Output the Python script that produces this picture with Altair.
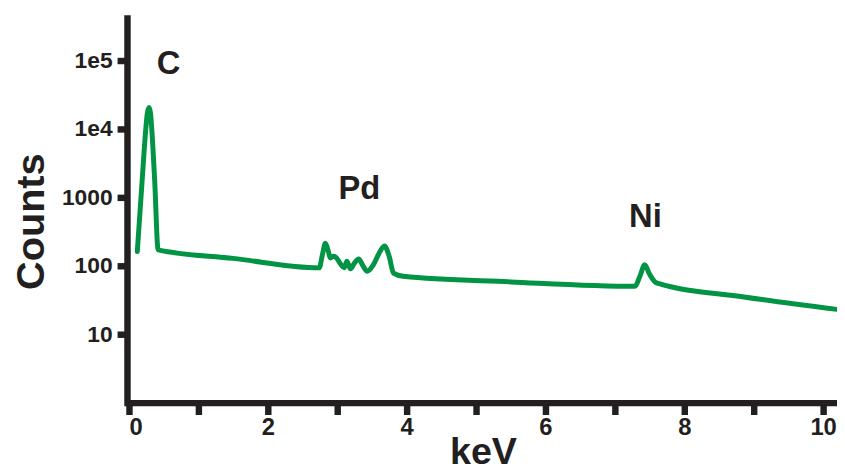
import altair as alt
import pandas as pd

# Spectrum values (keV, counts)
kev = [0.12, 0.19, 0.24, 0.265, 0.29, 0.31, 0.33, 0.37, 0.42, 1.5,
       2.74, 2.79, 2.83, 2.87, 2.90, 2.95, 2.99, 3.05, 3.10, 3.14, 3.19,
       3.25, 3.31, 3.37, 3.43, 3.52, 3.60, 3.68, 3.75, 3.81, 3.95,
       5.5, 7.29, 7.36, 7.43, 7.50, 7.60, 8.86, 10.2]
counts = [161, 1780, 9300, 17000, 20400, 17000, 9300, 1780, 170, 128,
          93, 150, 213, 165, 130, 138, 130, 105, 93, 116, 90,
          110, 125, 100, 83, 103, 150, 195, 135, 78, 70,
          58, 50, 70, 103, 75, 56, 35, 23]

# Element labels
elements = ["C", "Pd", "Ni"]
elem_x = [0.57, 3.32, 7.44]
elem_y = [87000, 1300, 510]

# Axis ticks
x_ticks = [0, 1, 2, 3, 4, 5, 6, 7, 8, 9, 10]
y_ticks = [10, 100, 1000, 10000, 100000]

spec_df = pd.DataFrame({"keV": kev, "Counts": counts})
lab_df = pd.DataFrame({"el": elements, "x": elem_x, "y": elem_y})

INK = "#231f20"
FONT = "Liberation Sans"

xscale = alt.Scale(domain=[0, 10.2], nice=False, zero=False)
yscale = alt.Scale(type="log", domain=[1, 417000], nice=False)

line = alt.Chart(spec_df).mark_line(
    color="#009444", strokeWidth=5, interpolate="monotone", strokeJoin="round", strokeCap="round"
).encode(
    x=alt.X("keV:Q", scale=xscale, axis=alt.Axis(
        values=x_ticks, format="d",
        labelExpr="datum.value % 2 == 0 ? datum.label : ''",
        title="keV", titleFontSize=38, titleFont=FONT, titleFontWeight="bold",
        titleColor=INK, titleBaseline="alphabetic", titleY=61,
        labelFont=FONT, labelFontSize=24, labelFontWeight="bold", labelColor=INK,
        labelPadding=1, tickSize=12, tickWidth=6.5, tickColor=INK,
        domainColor=INK, domainWidth=6.5, domainCap="square", grid=False,
    )),
    y=alt.Y("Counts:Q", scale=yscale, axis=alt.Axis(
        values=y_ticks, offset=2,
        labelExpr="datum.value == 10000 ? '1e4' : datum.value == 100000 ? '1e5' : format(datum.value, 'd')",
        title="Counts", titleFontSize=40, titleFont=FONT, titleFontWeight="bold",
        titleColor=INK, titleBaseline="alphabetic", titleX=-84, titleY=205,
        titleAngle=270, titleAlign="center",
        labelFont=FONT, labelFontSize=23, labelFontWeight="bold", labelColor=INK,
        labelPadding=5, tickSize=10, tickWidth=6.5, tickColor=INK,
        domainColor=INK, domainWidth=6.5, domainCap="square", grid=False,
    )),
)

labels = alt.Chart(lab_df).mark_text(
    font=FONT, fontSize=33, fontWeight="bold", color=INK, baseline="middle", align="center"
).encode(
    x=alt.X("x:Q", scale=xscale),
    y=alt.Y("y:Q", scale=yscale),
    text="el:N",
)

chart = alt.layer(line, labels).properties(
    width=714, height=388,
    background="white",
    autosize=alt.AutoSizeParams(type="none"),
    padding={"left": 122, "top": 8, "right": 0, "bottom": 69},
).configure_view(stroke="transparent", strokeWidth=0)

chart.save("out.html", embed_options={"renderer": "svg", "actions": False})
